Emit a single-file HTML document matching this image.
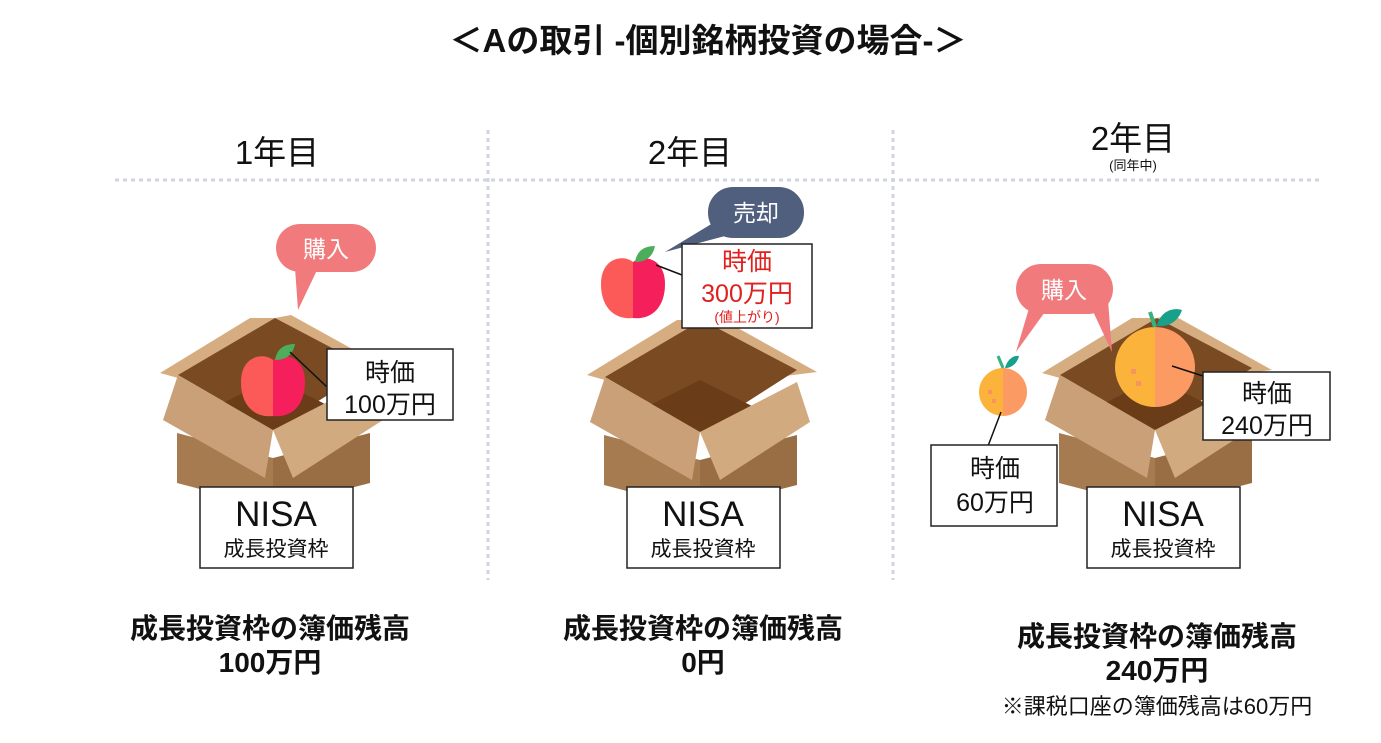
<!DOCTYPE html>
<html><head><meta charset="utf-8"><style>
html,body{margin:0;padding:0;background:#fff;}
svg{display:block;font-family:"Liberation Sans","Noto Sans CJK JP",sans-serif;}
</style></head><body>
<svg width="1381" height="743" viewBox="0 0 1381 743" xmlns="http://www.w3.org/2000/svg">
<defs>
<g id="box">
  <polygon points="-113,55 -23,0 2,0 -95,60" fill="#d6ad80"/>
  <polygon points="2,0 18,-3 117,52 77,57" fill="#d6ad80"/>
  <polygon points="-95,57 2,0 97,50 0,112" fill="#7a4a22"/>
  <polygon points="-60,90 0,60 60,90 0,112" fill="#6a3c18"/>
  <polygon points="-96,115 0,140 0,190 -96,165" fill="#a67b4f"/>
  <polygon points="0,140 97,115 97,165 0,190" fill="#9a6e45"/>
  <polygon points="-95,57 0,112 -8,160 -110,102" fill="#c9a077"/>
  <polygon points="0,112 97,62 110,102 20,160" fill="#d2aa80"/>
</g>
<g id="apple">
  <path d="M0,-26 C-10,-34 -32,-30 -32,-4 C-32,20 -18,32 0,30 Z" fill="#fb5a58"/>
  <path d="M0,-26 C10,-34 32,-30 32,-4 C32,20 18,32 0,30 Z" fill="#f51f5b"/>
  <path d="M2,-26 C4,-38 12,-42 22,-42 C20,-32 14,-26 2,-26 Z" fill="#4cad5a"/>
</g>
</defs>

<text x="708" y="52" text-anchor="middle" font-size="33" font-weight="bold" fill="#111">＜Aの取引 -個別銘柄投資の場合-＞</text>

<text x="277" y="164" text-anchor="middle" font-size="33" fill="#111">1年目</text>
<text x="690" y="164" text-anchor="middle" font-size="33" fill="#111">2年目</text>
<text x="1133" y="150" text-anchor="middle" font-size="33" fill="#111">2年目</text>
<text x="1133" y="170" text-anchor="middle" font-size="13" fill="#111">(同年中)</text>

<line x1="115" y1="180" x2="1322" y2="180" stroke="#d0d4de" stroke-width="3" stroke-dasharray="4,4"/>
<line x1="488" y1="130" x2="488" y2="580" stroke="#d0d4de" stroke-width="3" stroke-dasharray="4,4"/>
<line x1="893" y1="130" x2="893" y2="580" stroke="#d0d4de" stroke-width="3" stroke-dasharray="4,4"/>

<!-- column 1 -->
<use href="#box" x="273" y="318"/>
<use href="#apple" x="273" y="386"/>
<rect x="276" y="224" width="100" height="48" rx="24" fill="#f17b7c"/>
<polygon points="295,268 318,268 298,310" fill="#f17b7c"/>
<text x="326" y="257" text-anchor="middle" font-size="23" fill="#fff">購入</text>
<line x1="290" y1="352" x2="327" y2="387" stroke="#111" stroke-width="1.5"/>
<rect x="327" y="349" width="126" height="71" fill="#fff" stroke="#222" stroke-width="1.5"/>
<text x="390" y="381" text-anchor="middle" font-size="25" fill="#111">時価</text>
<text x="390" y="413" text-anchor="middle" font-size="25" fill="#111">100万円</text>
<rect x="200" y="487" width="153" height="81" fill="#fff" stroke="#222" stroke-width="1.5"/>
<text x="276" y="526" text-anchor="middle" font-size="35" fill="#111">NISA</text>
<text x="276" y="556" text-anchor="middle" font-size="21" fill="#111">成長投資枠</text>
<text x="270" y="638" text-anchor="middle" font-size="28" font-weight="bold" fill="#111">成長投資枠の簿価残高</text>
<text x="270" y="672" text-anchor="middle" font-size="28" font-weight="bold" fill="#111">100万円</text>

<!-- column 2 -->
<use href="#box" x="700" y="320"/>
<use href="#apple" x="633" y="288"/>
<rect x="708" y="187" width="96" height="51" rx="25" fill="#505f7e"/>
<polygon points="718,220 740,232 665,252" fill="#505f7e"/>
<text x="756" y="221" text-anchor="middle" font-size="23" fill="#fff">売却</text>
<line x1="656" y1="265" x2="682" y2="275" stroke="#111" stroke-width="1.5"/>
<rect x="682" y="244" width="130" height="84" fill="#fff" stroke="#222" stroke-width="1.5"/>
<text x="747" y="270" text-anchor="middle" font-size="25" fill="#e0201e">時価</text>
<text x="747" y="302" text-anchor="middle" font-size="25" fill="#e0201e">300万円</text>
<text x="747" y="322" text-anchor="middle" font-size="14" fill="#e0201e">(値上がり)</text>
<rect x="627" y="487" width="153" height="81" fill="#fff" stroke="#222" stroke-width="1.5"/>
<text x="703" y="526" text-anchor="middle" font-size="35" fill="#111">NISA</text>
<text x="703" y="556" text-anchor="middle" font-size="21" fill="#111">成長投資枠</text>
<text x="703" y="638" text-anchor="middle" font-size="28" font-weight="bold" fill="#111">成長投資枠の簿価残高</text>
<text x="703" y="672" text-anchor="middle" font-size="28" font-weight="bold" fill="#111">0円</text>

<!-- column 3 -->
<use href="#box" x="1155" y="318"/>
<path d="M1155,327 A40,40 0 0,0 1155,407 Z" fill="#fbb33b"/>
<path d="M1155,327 A40,40 0 0,1 1155,407 Z" fill="#fb9a62"/>
<rect x="1131" y="369" width="5" height="5" fill="#f7935e"/><rect x="1136" y="381" width="5" height="5" fill="#f7935e"/>
<path d="M1155,327 L1150,312" stroke="#36b37e" stroke-width="4"/>
<path d="M1157,326 C1160,312 1172,307 1182,310 C1178,322 1168,327 1157,326 Z" fill="#17a08a"/>
<path d="M1003,368 A24,24 0 0,0 1003,416 Z" fill="#fbb33b"/>
<path d="M1003,368 A24,24 0 0,1 1003,416 Z" fill="#fb9a62"/>
<rect x="988" y="390" width="4" height="4" fill="#f7935e"/><rect x="992" y="399" width="4" height="4" fill="#f7935e"/>
<path d="M1003,368 L998,356" stroke="#36b37e" stroke-width="3"/>
<path d="M1005,368 C1007,360 1013,355 1019,356 C1017,364 1011,368 1005,368 Z" fill="#17a08a"/>
<rect x="1016" y="264" width="97" height="50" rx="25" fill="#f17b7c"/>
<polygon points="1030,305 1050,305 1016,352" fill="#f17b7c"/>
<polygon points="1090,305 1108,300 1112,352" fill="#f17b7c"/>
<text x="1064" y="298" text-anchor="middle" font-size="23" fill="#fff">購入</text>
<line x1="1172" y1="366" x2="1203" y2="376" stroke="#111" stroke-width="1.5"/>
<rect x="1203" y="372" width="127" height="68" fill="#fff" stroke="#222" stroke-width="1.5"/>
<text x="1267" y="402" text-anchor="middle" font-size="25" fill="#111">時価</text>
<text x="1267" y="434" text-anchor="middle" font-size="25" fill="#111">240万円</text>
<line x1="1001" y1="412" x2="988" y2="446" stroke="#111" stroke-width="1.5"/>
<rect x="931" y="445" width="126" height="81" fill="#fff" stroke="#222" stroke-width="1.5"/>
<text x="995" y="477" text-anchor="middle" font-size="25" fill="#111">時価</text>
<text x="995" y="511" text-anchor="middle" font-size="25" fill="#111">60万円</text>
<rect x="1087" y="487" width="153" height="81" fill="#fff" stroke="#222" stroke-width="1.5"/>
<text x="1163" y="526" text-anchor="middle" font-size="35" fill="#111">NISA</text>
<text x="1163" y="556" text-anchor="middle" font-size="21" fill="#111">成長投資枠</text>
<text x="1157" y="646" text-anchor="middle" font-size="28" font-weight="bold" fill="#111">成長投資枠の簿価残高</text>
<text x="1157" y="680" text-anchor="middle" font-size="28" font-weight="bold" fill="#111">240万円</text>
<text x="1157" y="714" text-anchor="middle" font-size="22" fill="#111">※課税口座の簿価残高は60万円</text>
</svg>
</body></html>
